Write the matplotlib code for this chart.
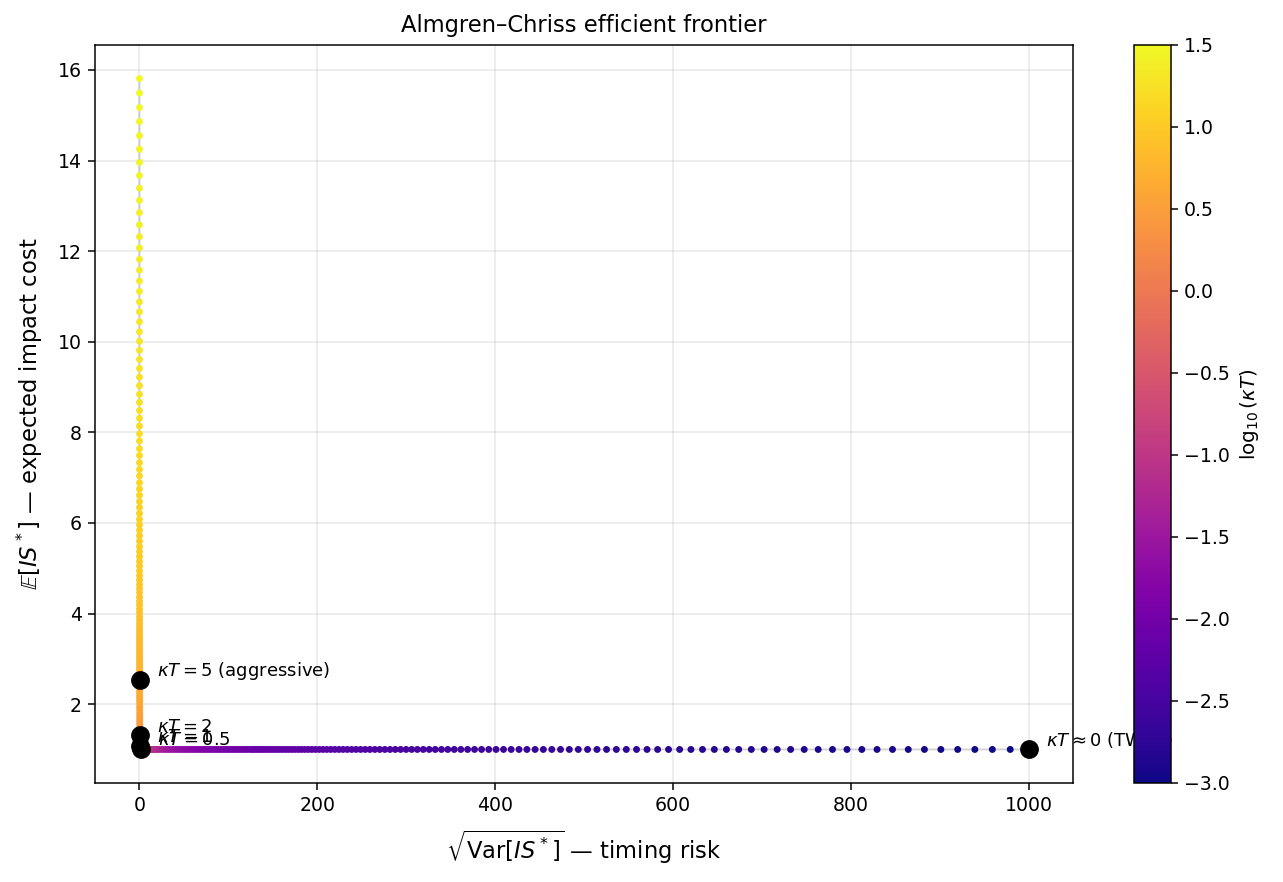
import numpy as np
import matplotlib
matplotlib.use("Agg")
import matplotlib.pyplot as plt

# ---- values ----
# low kappa*T side (TWAP end): distinct dots along the flat part
risk_twap_side = [
    1000.0, 979.4, 959.3, 939.6, 920.3, 901.4, 882.9, 864.7, 847.0, 829.6,
    812.5, 795.8, 779.5, 763.4, 747.7, 732.4, 717.3, 702.6, 688.2, 674.0,
    660.2, 646.6, 633.3, 620.3, 607.6, 595.1, 582.8, 570.9, 559.1, 547.6,
    536.4, 525.4, 514.6, 504.0, 493.6, 483.5, 473.6, 463.8, 454.3, 445.0,
    435.8, 426.9, 418.1, 409.5, 401.1, 392.9, 384.8, 376.9, 369.1, 361.5,
    354.1, 346.8, 339.7, 332.7, 325.9, 319.2, 312.6, 306.2, 299.9, 293.8,
    287.7, 281.8, 276.0, 270.3, 264.8, 259.3, 254.0, 248.8, 243.7, 238.7,
    233.8, 229.0, 224.3, 219.7, 215.1, 210.7, 206.4, 202.2, 198.0, 193.9,
    189.9, 186.0, 182.2, 178.5, 174.8, 171.2, 167.7, 164.3, 160.9, 157.6,
    154.3, 151.2, 148.1, 145.0, 142.0, 139.1, 136.3, 133.5, 130.7, 128.0,
    125.4]
cost_twap_side = [
    1.0, 1.0, 1.0, 1.0, 1.0, 1.0, 1.0, 1.0, 1.0, 1.0,
    1.0, 1.0, 1.0, 1.0, 1.0, 1.0, 1.0, 1.0, 1.0, 1.0,
    1.0, 1.0, 1.0, 1.0, 1.0, 1.0, 1.0, 1.0, 1.0, 1.0,
    1.0, 1.0, 1.0, 1.0, 1.0, 1.0, 1.0, 1.0, 1.0, 1.0,
    1.0, 1.0, 1.0, 1.0, 1.0, 1.0, 1.0, 1.0, 1.0, 1.0,
    1.0, 1.0, 1.0, 1.0, 1.0, 1.0, 1.0, 1.0, 1.0, 1.0,
    1.0, 1.0, 1.0, 1.0, 1.0, 1.0, 1.0, 1.0, 1.0, 1.0,
    1.0, 1.0, 1.0, 1.0, 1.0, 1.0, 1.0, 1.0, 1.0, 1.0,
    1.0, 1.0, 1.0, 1.0, 1.0, 1.0, 1.0, 1.0, 1.0, 1.0,
    1.0, 1.0, 1.0, 1.0, 1.0, 1.0, 1.0, 1.0, 1.0, 1.0,
    1.0]
logkt_twap_side = [
    -3.000, -2.991, -2.982, -2.973, -2.964, -2.955, -2.946, -2.937, -2.928, -2.919,
    -2.910, -2.901, -2.892, -2.883, -2.874, -2.865, -2.856, -2.847, -2.838, -2.829,
    -2.820, -2.811, -2.802, -2.793, -2.784, -2.775, -2.766, -2.757, -2.748, -2.739,
    -2.729, -2.720, -2.711, -2.702, -2.693, -2.684, -2.675, -2.666, -2.657, -2.648,
    -2.639, -2.630, -2.621, -2.612, -2.603, -2.594, -2.585, -2.576, -2.567, -2.558,
    -2.549, -2.540, -2.531, -2.522, -2.513, -2.504, -2.495, -2.486, -2.477, -2.468,
    -2.459, -2.450, -2.441, -2.432, -2.423, -2.414, -2.405, -2.396, -2.387, -2.378,
    -2.369, -2.360, -2.351, -2.342, -2.333, -2.324, -2.315, -2.306, -2.297, -2.288,
    -2.279, -2.270, -2.261, -2.252, -2.243, -2.234, -2.225, -2.216, -2.207, -2.198,
    -2.188, -2.179, -2.170, -2.161, -2.152, -2.143, -2.134, -2.125, -2.116, -2.107,
    -2.098]

# flat band where the dots merge (x from ~120 down to ~2)
risk_flat_band = [122, 119, 116, 113, 110, 107, 104, 101, 98, 95,
                  92, 89, 86, 83, 80, 77, 74, 71, 68, 65,
                  62, 59, 56, 53, 50, 47, 44, 41, 38, 35,
                  32, 29, 26, 23, 20, 18, 16, 14, 12, 10,
                  8, 6, 5, 4, 3, 2.5, 2]
cost_flat_band = [1.0, 1.0, 1.0, 1.0, 1.0, 1.0, 1.0, 1.0, 1.0, 1.0,
                  1.0, 1.0, 1.0, 1.0, 1.0, 1.0, 1.0, 1.0, 1.0, 1.0,
                  1.0, 1.0, 1.0, 1.0, 1.0, 1.0, 1.0, 1.0, 1.0, 1.0,
                  1.0, 1.0, 1.0, 1.0, 1.0, 1.0, 1.0, 1.0, 1.0, 1.0,
                  1.001, 1.002, 1.003, 1.005, 1.009, 1.013, 1.021]
logkt_flat_band = [-2.09, -2.08, -2.06, -2.05, -2.04, -2.03, -2.02, -2.00, -1.99, -1.98,
                   -1.96, -1.95, -1.93, -1.92, -1.90, -1.89, -1.87, -1.85, -1.83, -1.81,
                   -1.79, -1.77, -1.75, -1.72, -1.70, -1.67, -1.64, -1.61, -1.58, -1.54,
                   -1.51, -1.46, -1.42, -1.36, -1.30, -1.26, -1.20, -1.15, -1.08, -1.00,
                   -0.90, -0.78, -0.70, -0.60, -0.48, -0.40, -0.30]

# steep band near x=0 (listed from top to bottom)
risk_steep_band = [0.14, 0.14, 0.14, 0.14, 0.14, 0.15, 0.15, 0.15, 0.16, 0.16, 0.16,
                   0.17, 0.17, 0.17, 0.18, 0.18, 0.18, 0.19, 0.19, 0.20, 0.20,
                   0.21, 0.21, 0.22, 0.22, 0.23, 0.23, 0.24, 0.25, 0.26, 0.27,
                   0.28, 0.30, 0.31, 0.33, 0.34, 0.36, 0.39, 0.41, 0.44, 0.48,
                   0.52, 0.59, 0.69, 0.83, 1.04, 1.39, 1.79]
cost_steep_band = [3.70, 3.64, 3.58, 3.52, 3.46, 3.40, 3.34, 3.28, 3.22, 3.16, 3.10,
                   3.04, 2.99, 2.93, 2.87, 2.81, 2.75, 2.70, 2.64, 2.58, 2.53,
                   2.47, 2.41, 2.36, 2.30, 2.25, 2.19, 2.14, 2.08, 2.01, 1.94,
                   1.88, 1.81, 1.74, 1.68, 1.62, 1.56, 1.50, 1.45, 1.39, 1.34,
                   1.30, 1.23, 1.17, 1.12, 1.08, 1.04, 1.03]
logkt_steep_band = [0.868, 0.861, 0.854, 0.846, 0.839, 0.831, 0.823, 0.816, 0.808, 0.799, 0.791,
                    0.782, 0.774, 0.765, 0.756, 0.747, 0.737, 0.728, 0.718, 0.708, 0.697,
                    0.687, 0.676, 0.665, 0.653, 0.641, 0.629, 0.617, 0.604, 0.587, 0.568,
                    0.549, 0.529, 0.508, 0.486, 0.462, 0.438, 0.412, 0.384, 0.354, 0.322,
                    0.288, 0.230, 0.158, 0.079, -0.018, -0.143, -0.252]

# high kappa*T side: distinct dots up the steep part (top to bottom)
risk_aggr_side = [0.03, 0.03, 0.03, 0.03, 0.03, 0.03, 0.03, 0.03, 0.03, 0.03,
                  0.04, 0.04, 0.04, 0.04, 0.04, 0.04, 0.04, 0.05, 0.05, 0.05,
                  0.05, 0.05, 0.05, 0.05, 0.05, 0.05, 0.05, 0.06, 0.06, 0.06,
                  0.06, 0.06, 0.06, 0.06, 0.06, 0.07, 0.07, 0.07, 0.07, 0.07,
                  0.07, 0.07, 0.08, 0.08, 0.08, 0.08, 0.08, 0.08, 0.09, 0.09,
                  0.09, 0.09, 0.09, 0.10, 0.10, 0.10, 0.10, 0.10, 0.11, 0.11,
                  0.11, 0.11, 0.11, 0.12, 0.12, 0.12, 0.12, 0.13, 0.13, 0.13]
cost_aggr_side = [15.81, 15.49, 15.17, 14.86, 14.55, 14.25, 13.96, 13.67, 13.39, 13.12,
                  12.85, 12.58, 12.32, 12.07, 11.82, 11.58, 11.34, 11.11, 10.88, 10.66,
                  10.44, 10.22, 10.01, 9.81, 9.61, 9.41, 9.22, 9.03, 8.84, 8.66,
                  8.48, 8.31, 8.14, 7.97, 7.81, 7.64, 7.49, 7.33, 7.18, 7.04,
                  6.89, 6.75, 6.61, 6.47, 6.34, 6.21, 6.08, 5.96, 5.84, 5.72,
                  5.60, 5.48, 5.37, 5.26, 5.15, 5.05, 4.94, 4.84, 4.74, 4.64,
                  4.55, 4.46, 4.36, 4.27, 4.19, 4.10, 4.02, 3.93, 3.85, 3.77]
logkt_aggr_side = [1.500, 1.491, 1.482, 1.473, 1.464, 1.455, 1.446, 1.437, 1.428, 1.419,
                   1.410, 1.401, 1.392, 1.383, 1.374, 1.365, 1.356, 1.347, 1.338, 1.329,
                   1.320, 1.311, 1.302, 1.293, 1.284, 1.275, 1.266, 1.257, 1.248, 1.239,
                   1.229, 1.220, 1.211, 1.202, 1.193, 1.184, 1.175, 1.166, 1.157, 1.148,
                   1.139, 1.130, 1.121, 1.112, 1.103, 1.094, 1.085, 1.076, 1.067, 1.058,
                   1.049, 1.040, 1.031, 1.022, 1.013, 1.004, 0.995, 0.986, 0.977, 0.968,
                   0.959, 0.950, 0.941, 0.932, 0.923, 0.914, 0.905, 0.896, 0.887, 0.878]

# highlighted strategies
mark_risk = [0.2, 0.5, 1.0, 2.0, 1000.0]
mark_cost = [2.53, 1.31, 1.08, 1.02, 1.0]
mark_labels = [r"$\kappa T=5$ (aggressive)", r"$\kappa T=2$", r"$\kappa T=1$",
               r"$\kappa T=0.5$", r"$\kappa T\approx 0$ (TWAP)"]

# order by increasing kappa*T
risk = risk_twap_side + risk_flat_band + risk_steep_band[::-1] + risk_aggr_side[::-1]
cost = cost_twap_side + cost_flat_band + cost_steep_band[::-1] + cost_aggr_side[::-1]
logkt = logkt_twap_side + logkt_flat_band + logkt_steep_band[::-1] + logkt_aggr_side[::-1]

W, H, DPI = 1283, 882, 136
fig = plt.figure(figsize=(W / DPI, H / DPI), dpi=DPI)
ax = fig.add_axes([95 / W, 1 - 783 / H, 978 / W, 738 / H])
cax = fig.add_axes([1134 / W, 1 - 783 / H, 37 / W, 738 / H])

ax.plot(risk, cost, color="lightgray", lw=1, zorder=1)
sc = ax.scatter(risk, cost, c=logkt, cmap="plasma", vmin=-3, vmax=1.5, s=7, zorder=2)
ax.scatter(mark_risk, mark_cost, color="black", s=80, zorder=5)
for xr, yc, lab in zip(mark_risk, mark_cost, mark_labels):
    ax.annotate(lab, (xr, yc), xytext=(9, 2), textcoords="offset points", fontsize=9.5)

ax.set_xlabel(r"$\sqrt{\mathrm{Var}[IS^*]}$ — timing risk", fontsize=12, labelpad=7)
ax.set_ylabel(r"$\mathbb{E}[IS^*]$ — expected impact cost", fontsize=12, labelpad=6.5)
ax.set_title("Almgren–Chriss efficient frontier", fontsize=12, pad=7)
ax.grid(alpha=0.3)

cb = fig.colorbar(sc, cax=cax)
cb.set_label(r"$\log_{10}(\kappa T)$", fontsize=10.5)

fig.savefig("out.png", dpi=DPI)
